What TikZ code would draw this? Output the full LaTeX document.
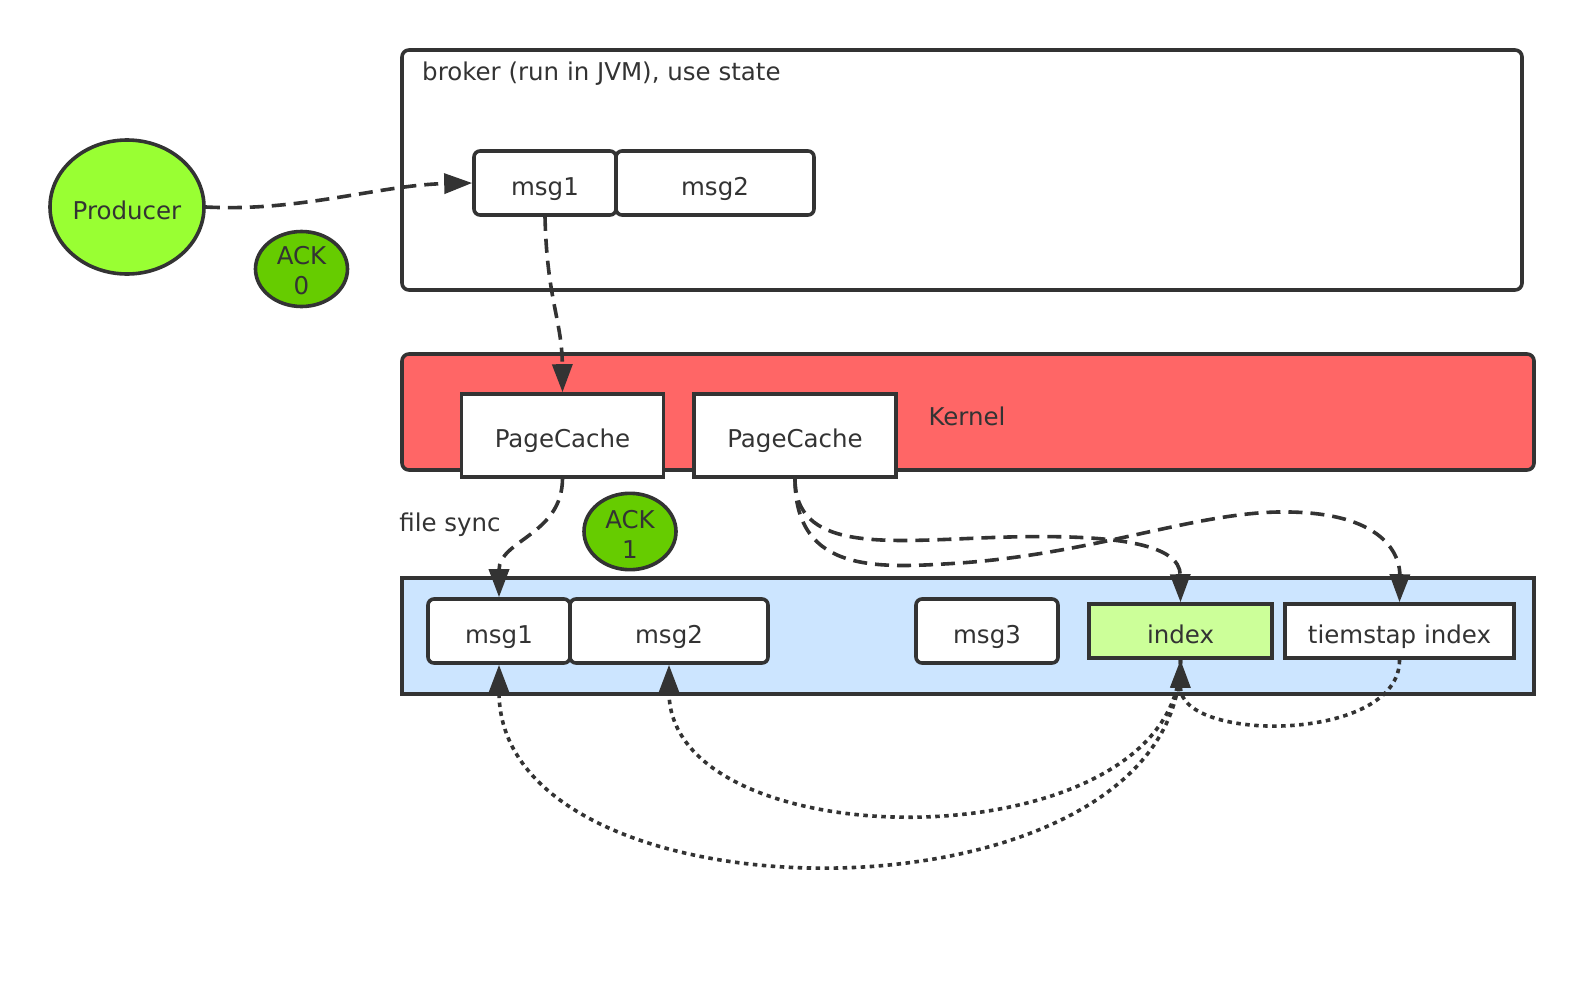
\documentclass[tikz,border=0pt]{standalone}
\usepackage{fontspec}
\setmainfont{DejaVu Sans}
\usetikzlibrary{arrows.meta,shapes.geometric}
\definecolor{ink}{HTML}{333333}
\definecolor{prodgreen}{HTML}{99FF33}
\definecolor{ackgreen}{HTML}{66CC00}
\definecolor{kernelred}{HTML}{FF6666}
\definecolor{diskblue}{HTML}{CCE5FF}
\definecolor{indexgreen}{HTML}{CCFF99}
\tikzset{
  base/.style={draw=ink, line width=3.6pt, text=ink, inner sep=0pt,
    text height=24pt, text depth=0pt},
  frame/.style={base, rounded corners=7pt},
  sqbox/.style={base, fill=white},
  rbox/.style={base, fill=white, rounded corners=6pt},
  oval/.style={base, ellipse, align=center},
  label/.style={text=ink, inner sep=0pt, text height=24pt, text depth=0pt},
  tip/.style={-{Triangle[length=28pt,width=20pt]}},
  dashconn/.style={draw=ink, line width=3.6pt, dash pattern=on 14pt off 8pt, tip},
  dotconn/.style={draw=ink, line width=3.6pt, dash pattern=on 4.5pt off 4.5pt, tip}
}
\begin{document}
\begin{tikzpicture}[x=1pt, y=-1pt, font=\fontsize{24.5}{30}\selectfont]
\useasboundingbox (0,0) rectangle (1584,985);

% broker (JVM) area
\node[frame, minimum width=1120pt, minimum height=240pt] (broker) at (962,170) {};
\node[text=ink, inner sep=0pt, anchor=base west] (brokertitle) at (422,80) {broker (run in JVM), use state};
\node[rbox, minimum width=142pt, minimum height=64pt] (msg1t) at (545,183) {msg1};
\node[rbox, minimum width=198pt, minimum height=64pt] (msg2t) at (715,183) {msg2};

% producer and acks
\node[oval, fill=prodgreen, minimum width=154pt, minimum height=134pt] (prod) at (127,207) {Producer};
\node[oval, text height=50pt, fill=ackgreen, minimum width=92pt, minimum height=75pt] (ack0) at (301.5,269) {ACK\\0};

% kernel with page caches
\node[frame, fill=kernelred, minimum width=1132pt, minimum height=116pt] (kernel) at (968,412) {};
\node[label] (kernellabel) at (967,413) {Kernel};
\node[sqbox, minimum width=202pt, minimum height=83pt] (pc1) at (562.5,435.5) {PageCache};
\node[sqbox, minimum width=202pt, minimum height=83pt] (pc2) at (795,435.5) {PageCache};

\node[label] (filesync) at (450,519) {file sync};
\node[oval, text height=54pt, fill=ackgreen, minimum width=92pt, minimum height=76pt] (ack1) at (630,531.5) {ACK\\1};

% disk files
\node[base, fill=diskblue, minimum width=1132pt, minimum height=116pt] (disk) at (968,636) {};
\node[rbox, minimum width=142pt, minimum height=64pt] (msg1b) at (499,631) {msg1};
\node[rbox, minimum width=198pt, minimum height=64pt] (msg2b) at (669,631) {msg2};
\node[rbox, minimum width=142pt, minimum height=64pt] (msg3) at (987,631) {msg3};
\node[sqbox, fill=indexgreen, minimum width=183pt, minimum height=54pt] (index) at (1180.5,631) {index};
\node[sqbox, minimum width=229pt, minimum height=54pt] (ts) at (1399.5,631) {tiemstap index};

% write path
\draw[dashconn] (prod.east) .. controls (300,212) and (380,185) .. (msg1t.west);
\draw[dashconn] (msg1t.south) .. controls (547,300) and (562,320) .. (pc1.north);
\draw[dashconn] (pc1.south) .. controls (562,535) and (499,540) .. (msg1b.north);
\draw[dashconn] (pc2.south) .. controls (795,550) and (880,542) .. (980,538)
  .. controls (1120,532) and (1180,545) .. (index.north);
\draw[dashconn] (pc2.south) .. controls (795,575) and (880,568) .. (960,563)
  .. controls (1100,553) and (1200,510) .. (1290,512)
  .. controls (1390,514) and (1400,560) .. (ts.north);

% index lookups
\draw[dotconn] (index.south) .. controls (1180,932) and (499,932) .. (msg1b.south);
\draw[dotconn] (index.south) .. controls (1180,864) and (669,864) .. (msg2b.south);
\draw[dotconn] (ts.south) .. controls (1400,743) and (1180,743) .. (index.south);
\end{tikzpicture}
\end{document}
